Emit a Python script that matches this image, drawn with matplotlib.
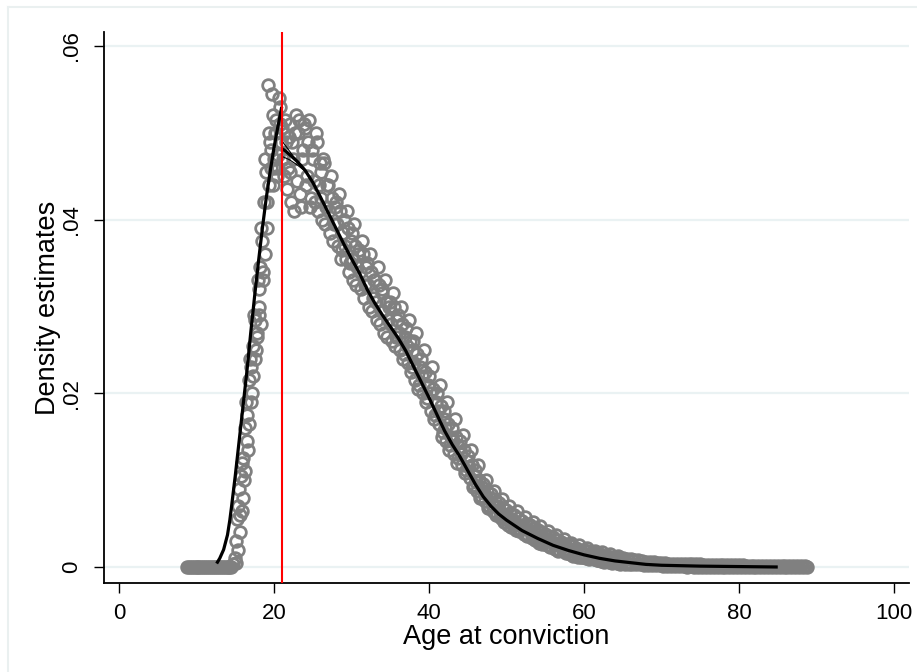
import numpy as np
import matplotlib
matplotlib.use("Agg")
import matplotlib.pyplot as plt
from matplotlib.lines import Line2D

plt.rcParams['font.family'] = ['Liberation Sans', 'DejaVu Sans']

# ---------------- data ----------------
# bin midpoints (ages, quarter-year bins) and estimated bin densities
bin_age = np.arange(8.75, 88.76, 0.25)
bin_density = [
    0.0,
    0.0, 0.0, 0.0, 0.0,            # 9
    0.0, 0.0, 0.0, 0.0,            # 10
    0.0, 0.0, 0.0, 0.0,            # 11
    0.0, 0.0, 0.0, 0.0,            # 12
    0.0, 0.0, 0.0, 0.0,            # 13
    0.0, 0.0, 0.0, 0.0004,         # 14
    0.0010, 0.0055, 0.0090, 0.0105,  # 15
    0.0125, 0.0160, 0.0175, 0.0215,  # 16
    0.0230, 0.0255, 0.0285, 0.0270,  # 17
    0.0320, 0.0345, 0.0375, 0.0420,  # 18
    0.0455, 0.0555, 0.0490, 0.0545,  # 19
    0.0470, 0.0515, 0.0460, 0.0530,  # 20
    0.0505, 0.0450, 0.0490, 0.0460,  # 21
    0.0510, 0.0420, 0.0470, 0.0500,  # 22
    0.0445, 0.0515, 0.0415, 0.0480,  # 23
    0.0505, 0.0450, 0.0515, 0.0425,  # 24
    0.0470, 0.0420, 0.0490, 0.0440,  # 25
    0.0455, 0.0400, 0.0465, 0.0415,  # 26
    0.0440, 0.0385, 0.0425, 0.0395,  # 27
    0.0420, 0.0370, 0.0410, 0.0365,  # 28
    0.0400, 0.0355, 0.0390, 0.0350,  # 29
    0.0385, 0.0330, 0.0370, 0.0345,  # 30
    0.0365, 0.0320, 0.0360, 0.0325,  # 31
    0.0350, 0.0300, 0.0340, 0.0310,  # 32
    0.0330, 0.0285, 0.0325, 0.0295,  # 33
    0.0320, 0.0270, 0.0305, 0.0285,  # 34
    0.0305, 0.0260, 0.0300, 0.0265,  # 35
    0.0290, 0.0250, 0.0280, 0.0245,  # 36
    0.0275, 0.0235, 0.0260, 0.0230,  # 37
    0.0260, 0.0215, 0.0245, 0.0210,  # 38
    0.0240, 0.0200, 0.0225, 0.0195,  # 39
    0.0220, 0.0180, 0.0205, 0.0175,  # 40
    0.0200, 0.0165, 0.0185, 0.0155,  # 41
    0.0180, 0.0145, 0.0165, 0.0140,  # 42
    0.0160, 0.0130, 0.0150, 0.0125,  # 43
    0.0145, 0.0118, 0.0135, 0.0112,  # 44
    0.0128, 0.0102, 0.0118, 0.0095,  # 45
    0.0112, 0.0088, 0.0100, 0.0082,  # 46
    0.0096, 0.0076, 0.0088, 0.0070,  # 47
    0.0084, 0.0064, 0.0078, 0.0062,  # 48
    0.0074, 0.0056, 0.0068, 0.0055,  # 49
    0.0066, 0.0048, 0.0062, 0.0050,  # 50
    0.0060, 0.0043, 0.0056, 0.0044,  # 51
    0.0053, 0.0038, 0.0050, 0.0037,  # 52
    0.0048, 0.0033, 0.0045, 0.0032,  # 53
    0.0043, 0.0028, 0.0040, 0.0029,  # 54
    0.0038, 0.0025, 0.0036, 0.0024,  # 55
    0.0034, 0.0021, 0.0031, 0.0020,  # 56
    0.0029, 0.0018, 0.0027, 0.0017,  # 57
    0.0026, 0.0015, 0.0024, 0.0014,  # 58
    0.0022, 0.0012, 0.0020, 0.0012,  # 59
    0.0020, 0.0010, 0.0018, 0.0010,  # 60
    0.0017, 0.0009, 0.0015, 0.0008,  # 61
    0.0015, 0.0007, 0.0013, 0.0007,  # 62
    0.0013, 0.0006, 0.0012, 0.0006,  # 63
    0.0011, 0.0005, 0.0010, 0.0005,  # 64
    0.0010, 0.0004, 0.0009, 0.0004,  # 65
    0.0009, 0.0003, 0.0008, 0.0003,  # 66
    0.0008, 0.0003, 0.0007, 0.0002,  # 67
    0.0006, 0.0002, 0.0006, 0.0002,  # 68
    0.0006, 0.0002, 0.0005, 0.0002,  # 69
    0.0005, 0.0001, 0.0005, 0.0001,  # 70
    0.0004, 0.0001, 0.0004, 0.0001,  # 71
    0.0004, 0.0001, 0.0003, 0.0001,  # 72
    0.0003, 0.0000, 0.0003, 0.0001,  # 73
    0.0003, 0.0000, 0.0003, 0.0000,  # 74
    0.0003, 0.0000, 0.0002, 0.0000,  # 75
    0.0002, 0.0000, 0.0002, 0.0000,  # 76
    0.0002, 0.0000, 0.0002, 0.0000,  # 77
    0.0002, 0.0000, 0.0002, 0.0000,  # 78
    0.0002, 0.0000, 0.0002, 0.0000,  # 79
    0.0002, 0.0000, 0.0002, 0.0000,  # 80
    0.0001, 0.0000, 0.0001, 0.0000,  # 81
    0.0001, 0.0000, 0.0001, 0.0000,  # 82
    0.0001, 0.0000, 0.0001, 0.0000,  # 83
    0.0001, 0.0000, 0.0001, 0.0000,  # 84
    0.0001, 0.0000, 0.0001, 0.0000,  # 85
    0.0001, 0.0000, 0.0001, 0.0000,  # 86
    0.0001, 0.0000, 0.0001, 0.0000,  # 87
    0.0001, 0.0000, 0.0001, 0.0000,  # 88
]

# intermediate bins (offset by 1/8 year) over the main body of the distribution
bin_age_mid = np.arange(15.125, 64.9, 0.25)
bin_density_mid = [
    0.0030, 0.0070, 0.0060, 0.0120,  # 15
    0.0100, 0.0190, 0.0135, 0.0240,  # 16
    0.0200, 0.0290, 0.0250, 0.0330,  # 17
    0.0290, 0.0390, 0.0340, 0.0470,  # 18
    0.0420, 0.0500, 0.0460, 0.0520,  # 19
    0.0500, 0.0450, 0.0540, 0.0490,  # 20
    0.0470, 0.0515, 0.0435, 0.0495,  # 21
    0.0455, 0.0490, 0.0410, 0.0520,  # 22
    0.0500, 0.0430, 0.0470, 0.0510,  # 23
    0.0440, 0.0490, 0.0415, 0.0480,  # 24
    0.0445, 0.0500, 0.0410, 0.0465,  # 25
    0.0425, 0.0470, 0.0395, 0.0440,  # 26
    0.0410, 0.0450, 0.0375, 0.0415,  # 27
    0.0395, 0.0430, 0.0355, 0.0385,  # 28
    0.0370, 0.0410, 0.0340, 0.0375,  # 29
    0.0355, 0.0395, 0.0325, 0.0360,  # 30
    0.0340, 0.0375, 0.0310, 0.0345,  # 31
    0.0325, 0.0360, 0.0295, 0.0330,  # 32
    0.0305, 0.0345, 0.0280, 0.0315,  # 33
    0.0295, 0.0330, 0.0265, 0.0300,  # 34
    0.0280, 0.0315, 0.0255, 0.0285,  # 35
    0.0270, 0.0300, 0.0240, 0.0265,  # 36
    0.0255, 0.0285, 0.0225, 0.0250,  # 37
    0.0235, 0.0270, 0.0205, 0.0230,  # 38
    0.0220, 0.0250, 0.0190, 0.0210,  # 39
    0.0200, 0.0230, 0.0170, 0.0190,  # 40
    0.0180, 0.0210, 0.0150, 0.0170,  # 41
    0.0160, 0.0190, 0.0135, 0.0150,  # 42
    0.0145, 0.0170, 0.0120, 0.0138,  # 43
    0.0130, 0.0152, 0.0108, 0.0122,  # 44
    0.0115, 0.0135, 0.0092, 0.0105,  # 45
    0.0098, 0.0118, 0.0080, 0.0092,  # 46
    0.0085, 0.0100, 0.0068, 0.0080,  # 47
    0.0072, 0.0088, 0.0060, 0.0070,  # 48
    0.0063, 0.0078, 0.0052, 0.0060,  # 49
    0.0056, 0.0070, 0.0046, 0.0054,  # 50
    0.0050, 0.0064, 0.0041, 0.0048,  # 51
    0.0045, 0.0058, 0.0036, 0.0043,  # 52
    0.0040, 0.0052, 0.0031, 0.0038,  # 53
    0.0035, 0.0047, 0.0027, 0.0033,  # 54
    0.0031, 0.0042, 0.0023, 0.0029,  # 55
    0.0027, 0.0037, 0.0019, 0.0025,  # 56
    0.0023, 0.0032, 0.0016, 0.0021,  # 57
    0.0020, 0.0028, 0.0013, 0.0018,  # 58
    0.0017, 0.0025, 0.0011, 0.0015,  # 59
    0.0015, 0.0022, 0.0009, 0.0013,  # 60
    0.0013, 0.0019, 0.0008, 0.0011,  # 61
    0.0011, 0.0017, 0.0006, 0.0010,  # 62
    0.0010, 0.0015, 0.0005, 0.0009,  # 63
    0.0009, 0.0013, 0.0004, 0.0008,  # 64
]

# further bins on the steep rise before the cutoff (offset by 1/16 year)
bin_age_rise = np.arange(15.0625, 20.9, 0.25)
bin_density_rise = [
    0.0005, 0.0020, 0.0040, 0.0065,  # 15
    0.0080, 0.0110, 0.0145, 0.0165,  # 16
    0.0190, 0.0220, 0.0240, 0.0265,  # 17
    0.0300, 0.0280, 0.0330, 0.0360,  # 18
    0.0390, 0.0440, 0.0480, 0.0440,  # 19
    0.0460, 0.0500, 0.0475, 0.0510,  # 20
]

# local linear fit, left of cutoff
fit_left_age = [12.6, 13.0, 13.5, 14.0, 14.3, 14.5, 15.0, 15.5, 16.0, 16.5,
                17.0, 17.5, 18.0, 18.5, 19.0, 19.5, 20.0, 20.5, 21.0]
fit_left_dens = [0.0004, 0.0010, 0.0020, 0.0037, 0.0054, 0.0068, 0.0105, 0.0145,
                 0.0185, 0.0225, 0.0270, 0.0312, 0.0352, 0.0390, 0.0425, 0.0455,
                 0.0483, 0.0507, 0.0530]

# local linear fit, right of cutoff
fit_right_age = [21.0, 21.5, 22, 23, 24, 25, 26, 27, 28, 29, 30, 31, 32, 33, 34,
                 35, 36, 37, 38, 39, 40, 41, 42, 43, 44, 45, 46, 47, 48, 49, 50,
                 52, 54, 56, 58, 60, 62, 64, 66, 68, 70, 75, 80, 85]
fit_right_dens = [0.0482, 0.0479, 0.0475, 0.0467, 0.0457, 0.0443, 0.0426, 0.0408,
                  0.0390, 0.0372, 0.0355, 0.0339, 0.0320, 0.0304, 0.0290, 0.0277,
                  0.0264, 0.0249, 0.0231, 0.0213, 0.0195, 0.0176, 0.0157, 0.0141,
                  0.0127, 0.0111, 0.0095, 0.0081, 0.0070, 0.0061, 0.0054, 0.0042,
                  0.0033, 0.0025, 0.0019, 0.0014, 0.0010, 0.0007, 0.0005, 0.0003,
                  0.0002, 0.0001, 0.00005, 0.0]

# confidence bands just right of cutoff
ci_age = [21.0, 21.5, 22.0, 22.5, 23.0, 24.0]
ci_upper = [0.0491, 0.0485, 0.0479, 0.0473, 0.0468, 0.0457]
ci_lower = [0.0473, 0.0471, 0.0469, 0.0466, 0.0463, 0.0456]

cutoff = 21
x_ticks = [0, 20, 40, 60, 80, 100]
y_ticks = [0, 0.02, 0.04, 0.06]
y_tick_labels = ['0', '.02', '.04', '.06']

# ---------------- figure ----------------
W, H = 917, 672
fig = plt.figure(figsize=(W / 100, H / 100), dpi=100)
fig.patch.set_facecolor('white')

L, R, T, B = 104, 909, 32, 583
ax = fig.add_axes([L / W, 1 - B / H, (R - L) / W, (B - T) / H])

x0 = 119
xs = 7.75
ax.set_xlim((L - x0) / xs, (R - x0) / xs)
y0 = 567
ys = 521 / 0.06
ax.set_ylim(-(B - y0) / ys, (y0 - T) / ys)

for yv in y_ticks:
    ax.axhline(yv, color='#EAF2F3', lw=1.6, zorder=0)

marker_style = dict(linestyle='none', marker='o', markersize=8.4,
                    markerfacecolor='none', markeredgecolor='#808080',
                    markeredgewidth=2.0, zorder=2)
ax.plot(bin_age, bin_density, **marker_style)
ax.plot(bin_age_mid, bin_density_mid, **marker_style)
ax.plot(bin_age_rise, bin_density_rise, **marker_style)

ax.plot(fit_left_age, fit_left_dens, color='black', lw=2.3, zorder=3,
        solid_capstyle='butt')
ax.plot(fit_right_age, fit_right_dens, color='black', lw=2.3, zorder=3,
        solid_capstyle='butt')
ax.plot(ci_age, ci_upper, color='black', lw=0.8, zorder=3)
ax.plot(ci_age, ci_lower, color='black', lw=0.8, zorder=3)

ax.axvline(cutoff, color='#FF0000', lw=1.5, zorder=4)

ax.spines['top'].set_visible(False)
ax.spines['right'].set_visible(False)
ax.spines['left'].set_linewidth(1.3)
ax.spines['bottom'].set_linewidth(1.3)

ax.set_xticks(x_ticks)
ax.set_xticklabels([str(v) for v in x_ticks])
ax.set_yticks(y_ticks)
ax.set_yticklabels(y_tick_labels, rotation=90, va='center')
ax.tick_params(axis='both', direction='out', length=7.5, width=1.0,
               labelsize=16, color='black')
ax.tick_params(axis='x', pad=7)
ax.tick_params(axis='y', pad=8)

ax.set_xlabel('Age at conviction', fontsize=19.5, labelpad=0)
ax.set_ylabel('Density estimates', fontsize=19.5, labelpad=0)

# outer light frame (top and left edges visible)
fig.add_artist(Line2D([8 / W, 1.0], [1 - 7 / H, 1 - 7 / H],
                      transform=fig.transFigure, color='#EAF0F0', lw=1.5))
fig.add_artist(Line2D([8 / W, 8 / W], [1 - 7 / H, 0.0],
                      transform=fig.transFigure, color='#EAF0F0', lw=1.5))

fig.savefig('out.png', dpi=100, facecolor='white')
